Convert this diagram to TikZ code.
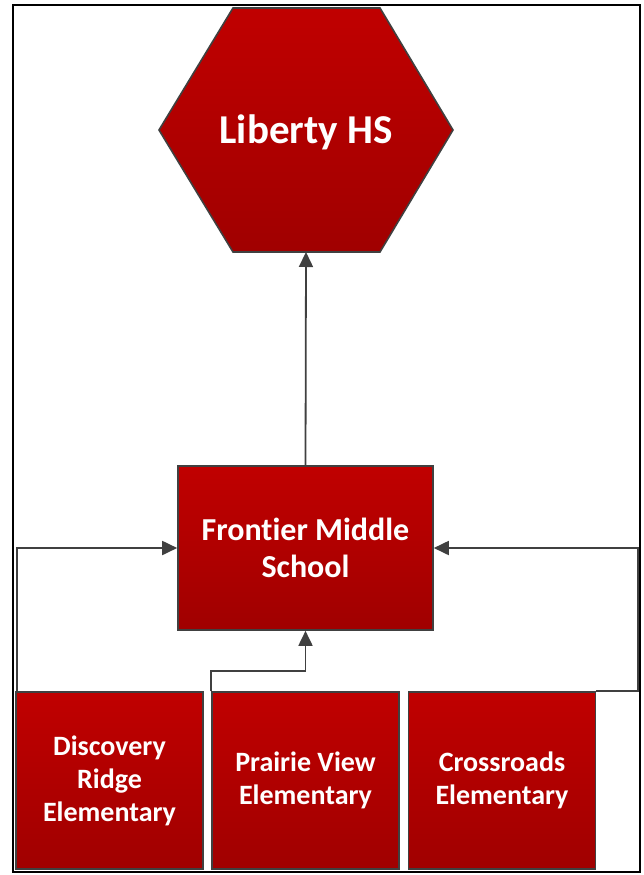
\documentclass[tikz,border=0pt]{standalone}
\usepackage{fontspec}
\setmainfont{Carlito}[Ligatures=NoCommon]
\usetikzlibrary{arrows.meta}
\definecolor{redtop}{RGB}{192,0,0}
\definecolor{redbot}{RGB}{160,0,0}
\definecolor{edge}{RGB}{64,64,64}
\begin{document}
\begin{tikzpicture}[
  x=1pt, y=1pt,
  redfill/.style={top color=redtop, bottom color=redbot, draw=edge, line width=1.6pt},
  box/.style={redfill, align=center, text=white, font=\bfseries, inner sep=0pt},
  bigbox/.style={box, minimum width=255pt, minimum height=164pt, font=\fontsize{32}{37}\selectfont\bfseries},
  smallbox/.style={box, minimum width=187pt, minimum height=177pt, font=\fontsize{28}{33}\selectfont\bfseries},
  link/.style={draw=edge, line width=1.8pt, -{Triangle[length=15pt,width=14pt]}}
]
  \useasboundingbox (0,0) rectangle (644,-875);
  \draw[line width=2.5pt] (13,-5) rectangle (640,-872);

  % high school
  \path[redfill] (159,-130) -- (233,-8) -- (380,-8) -- (453,-130) -- (380,-252) -- (233,-252) -- cycle;
  \coordinate (hsbase) at (306,-252);
  \node[text=white, font=\fontsize{41}{48}\selectfont\bfseries] (liberty) at (306,-132) {Liberty HS};

  % middle school
  \node[bigbox] (frontier) at (305.5,-548) {Frontier Middle\\School};

  % elementary schools
  \node[smallbox] (discovery) at (109.5,-780.5) {Discovery\\Ridge\\Elementary};
  \node[smallbox] (prairie) at (305.5,-780.5) {Prairie View\\Elementary};
  \node[smallbox] (crossroads) at (502,-780.5) {Crossroads\\Elementary};

  \draw[link] (frontier.north) -- (hsbase);
  \draw[link] ([xshift=2pt]discovery.north west) |- (frontier.west);
  \draw[link] (prairie.north west) -- ++(0,20) -| (frontier.south);
  \draw[link] (crossroads.north east) -- ++(42,0) |- (frontier.east);
\end{tikzpicture}
\end{document}
